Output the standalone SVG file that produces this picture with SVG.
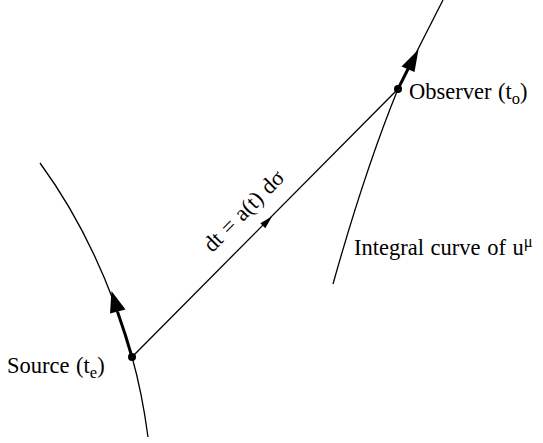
<svg xmlns="http://www.w3.org/2000/svg" width="543" height="443" viewBox="0 0 543 443">
<style>
.thin{fill:none;stroke:#000;stroke-width:1.3}
.thick{fill:none;stroke:#000;stroke-width:3}
.head{fill:#000;stroke:none}
text{font-family:"Liberation Serif","Times New Roman",serif;font-size:22.5px;word-spacing:1px;fill:#000}
.sub{font-size:16.5px}
</style>
<rect width="543" height="443" fill="#fff"/>
<g id="connectors">
<path class="thin" d="M40,163 Q100,245 132,357 Q142,392 148,437"/>
<path class="thin" d="M398,89 Q420,45 443,0"/>
<path class="thin" d="M398,89 Q365,170 333,284"/>
<path class="thin" d="M132,357 L398,89"/>
<path class="thick" d="M132,357 Q125.4,333.9 117.5,311.7"/>
<polygon class="head" points="111.5,291 110,313.5 125.5,309.5"/>
<path class="thick" d="M398,89 L408,69"/>
<polygon class="head" points="418.5,49.5 401.5,66.5 414.5,72"/>
<polygon class="head" points="272,216.5 265.3,228.2 260.3,223.2"/>
</g>
<g id="source">
<circle cx="132" cy="357" r="4"/>
<text x="7" y="373">Source (t<tspan class="sub" dy="5">e</tspan><tspan dy="-5">)</tspan></text>
</g>
<g id="observer">
<circle cx="398" cy="89" r="4"/>
<text x="409" y="99">Observer (t<tspan class="sub" dy="5">o</tspan><tspan dy="-5">)</tspan></text>
</g>
<g id="integral">
<text x="354" y="255">Integral curve of u<tspan class="sub" dy="-8">μ</tspan></text>
</g>
<g id="label">
<text transform="translate(249,216) rotate(-45.2)" text-anchor="middle">dt = a(t) dσ</text>
</g>
</svg>
